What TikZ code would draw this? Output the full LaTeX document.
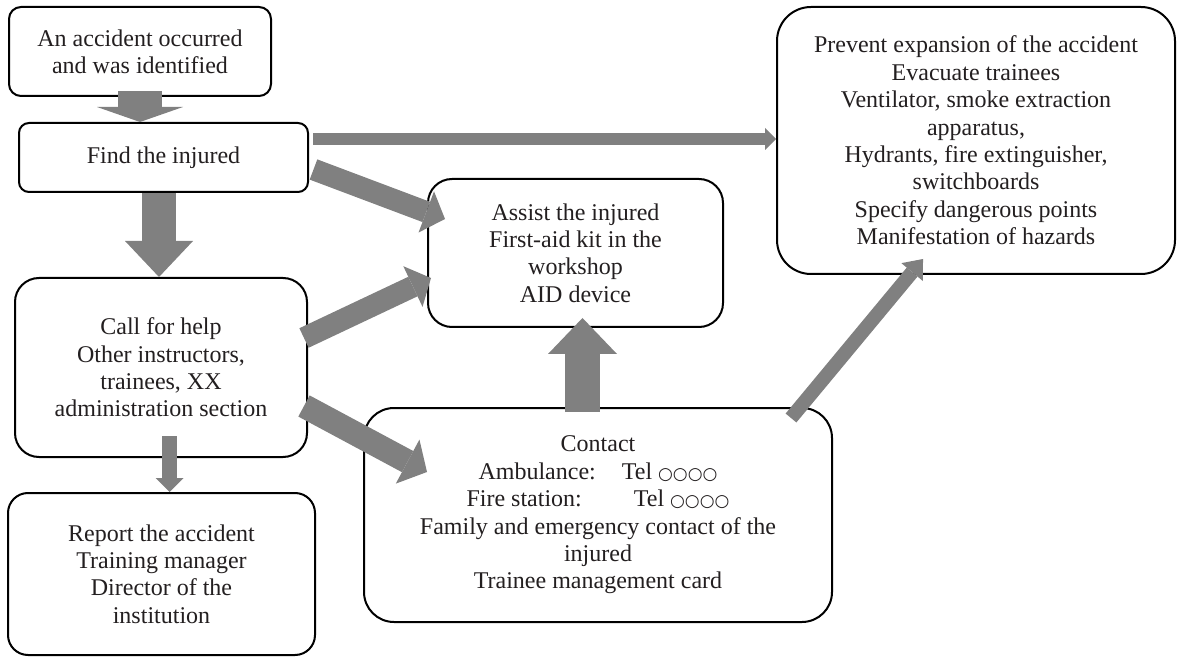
\documentclass[tikz,border=0pt]{standalone}
\usepackage{fontspec}
\setmainfont{Liberation Serif}
\newfontfamily\symfont{DejaVu Sans}
\usetikzlibrary{arrows.meta, positioning, calc}
\definecolor{cArrow}{RGB}{128,128,128}
\definecolor{cText}{RGB}{35,31,32}
\newcommand{\telno}{{\symfont\fontsize{8.5}{9}\selectfont ○○○○}}
\tikzset{
	blk/.style={rectangle, draw=black, line width=1pt, fill=white, align=center, text=cText, inner sep=2pt},
	% fat gray arrows: shaft width, head width, head length
	sig/.style n args={3}{draw=cArrow, line width=#1, -{Triangle[width=#2, length=#3, line width=0pt]}},
}
\begin{document}
\begin{tikzpicture}[x=0.5pt, y=-0.5pt, font=\fontsize{12}{13.7}\selectfont]
	\useasboundingbox (0,0) rectangle (1177,657);
	\node[blk, rounded corners=6pt, minimum width=131pt, minimum height=44.5pt] (acc) at (140,51.5) {An accident occurred\\ and was identified};
	\node[blk, rounded corners=5pt, minimum width=144.5pt, minimum height=34.5pt] (find) at (163.5,157.5) {Find the injured};
	\node[blk, rounded corners=12pt, minimum width=146pt, minimum height=89.5pt] (call) at (161,367.5) {Call for help\\ Other instructors,\\ trainees, XX\\ administration section};
	\node[blk, rounded corners=10pt, minimum width=153.5pt, minimum height=81pt] (rep) at (161.5,574) {Report the accident\\ Training manager\\ Director of the\\ institution};
	\node[blk, rounded corners=12pt, minimum width=147.5pt, minimum height=74pt] (assist) at (575.5,253) {Assist the injured\\ First-aid kit in the\\ workshop\\ AID device};
	\node[blk, rounded corners=17pt, minimum width=199pt, minimum height=133.5pt] (prev) at (976,140.5) {Prevent expansion of the accident\\ Evacuate trainees\\ Ventilator, smoke extraction\\ apparatus,\\ Hydrants, fire extinguisher,\\ switchboards\\ Specify dangerous points\\ Manifestation of hazards};
	\node[blk, rounded corners=15pt, minimum width=234pt, minimum height=107pt] (cont) at (598,515) {Contact\\ Ambulance:\hspace*{10pt} Tel \telno\\ Fire station:\hspace*{23pt} Tel \telno\\ Family and emergency contact of the\\ injured\\ Trainee management card};
	% arrows
	\coordinate (a0) at ([shift={(0,-6)}]acc.south);
	\draw[sig={22pt}{43pt}{7.5pt}] (a0) -- (a0 |- find.north);
	\coordinate (b0) at ([shift={(-4.5,0)}]find.south);
	\draw[sig={17pt}{34pt}{18pt}] (b0) -- (b0 |- call.north);
	\coordinate (c0) at ([shift={(8.5,-22)}]call.south);
	\draw[sig={7.5pt}{14pt}{7pt}] (c0) -- (c0 |- rep.north);
	\coordinate (h0) at ([shift={(4,-18.5)}]find.east);
	\draw[sig={6pt}{11pt}{5.5pt}] (h0) -- (h0 -| prev.west);
	\draw[sig={10.8pt}{22pt}{10pt}] ([shift={(4.5,12)}]find.east) -- ([shift={(18,-34)}]assist.west);
	\draw[sig={10.8pt}{22.5pt}{10pt}] ([shift={(-4,-29.5)}]call.east) -- ([shift={(4,25)}]assist.west);
	\draw[sig={12pt}{25pt}{11pt}] ([shift={(-4,38.5)}]call.east) -- ([shift={(64,-43)}]cont.west);
	\draw[sig={17.5pt}{34.5pt}{18pt}] ([shift={(-15.5,5)}]cont.north) -- ([shift={(7,-10)}]assist.south);
	\draw[sig={7pt}{14pt}{8.5pt}] ([shift={(-42,11)}]cont.north east) -- ([shift={(-53,-16)}]prev.south);
\end{tikzpicture}
\end{document}
